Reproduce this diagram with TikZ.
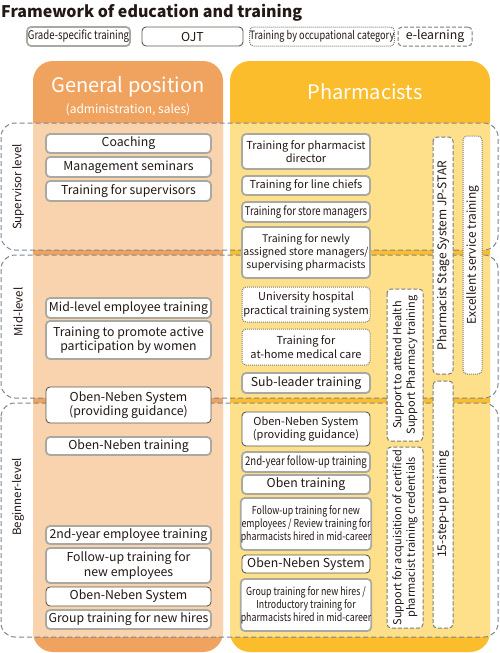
\documentclass[tikz,border=0pt]{standalone}
\usepackage{fontspec}
\setmainfont{Noto Sans CJK JP}
\newfontfamily\narrowfont[FakeStretch=0.8]{Noto Sans CJK JP}
\usetikzlibrary{positioning}

\definecolor{orangehead}{HTML}{F0A35E}
\definecolor{orangebody}{HTML}{F9D3AE}
\definecolor{yellowhead}{HTML}{FBBD2B}
\definecolor{yellowbody}{HTML}{FEDF8A}
\definecolor{gradeline}{HTML}{A9A9A1}
\definecolor{ojtline}{HTML}{5A5A50}
\definecolor{dashline}{HTML}{7D7D75}
\definecolor{levelline}{HTML}{7C8795}
\definecolor{ink}{HTML}{231815}

\begin{document}
\begin{tikzpicture}[x=1pt, y=-1pt,
  every node/.style={text=ink, inner sep=0pt},
  item/.style={rectangle, rounded corners=4pt, fill=white, align=center,
    font=\fontsize{12.3}{14.5}\selectfont},
  grade/.style={item, draw=gradeline, line width=1.8pt},
  ojt/.style={item, draw=ojtline, line width=0.9pt},
  occupation/.style={item, draw=dashline, densely dotted, line width=1pt},
  elearning/.style={item, draw=dashline, dash pattern=on 4pt off 2pt, line width=1pt},
  small/.style={font=\fontsize{11}{13.5}\selectfont},
  narrow/.style={font=\narrowfont\fontsize{12}{13.5}\selectfont},
  leftitem/.style={minimum width=165pt},
  rightitem/.style={minimum width=128pt},
  vbar/.style={rotate=90, font=\fontsize{12}{14}\selectfont},
  level/.style={draw=levelline, dash pattern=on 5pt off 3pt, line width=1pt, rounded corners=14pt},
  levellabel/.style={rotate=90, font=\fontsize{11.5}{14}\selectfont},
  head/.style={text=white, font=\fontsize{20}{24}\selectfont}
]
\useasboundingbox (0,0) rectangle (500,653);

\node[anchor=base west, font=\bfseries\fontsize{16}{20}\selectfont] (title) at (1,17) {Framework of education and training};

\node[grade, narrow, minimum width=103pt, minimum height=19pt] (keygrade) at (78.5,36.5) {Grade-specific training};
\node[ojt, minimum width=101pt, minimum height=19pt] (keyojt) at (192.5,36.5) {OJT};
\node[occupation, font=\narrowfont\fontsize{11.5}{13}\selectfont, minimum width=132pt, minimum height=19pt] (keyocc) at (322,36.5) {Training by occupational category};
\node[elearning, minimum width=74pt, minimum height=19pt] (keyel) at (435,36.5) {e-learning};

\fill[orangehead, rounded corners=20pt] (33,61) rectangle (223,652);
\fill[yellowhead, rounded corners=20pt] (230,61) rectangle (490,652);
\foreach \top/\bottom in {123/250, 255/398, 403/637} {
  \fill[orangebody] (33,\top) rectangle (223,\bottom);
  \fill[yellowbody] (230,\top) rectangle (490,\bottom);
}

\node[head] (general) at (128,87) {General position};
\node[text=white, font=\fontsize{12}{14}\selectfont, below=6pt of general] (generalsub) {(administration, sales)};
\node[head] (pharma) at (365,92) {Pharmacists};

\draw[level] (1,123) rectangle (498,250);
\draw[level] (1,255) rectangle (498,398);
\draw[level] (1,403) rectangle (498,637);
\node[levellabel] (supervisor) at (18,187) {Supervisor level};
\node[levellabel] (midlevel) at (18,312) {Mid-level};
\node[levellabel] (beginner) at (18,497) {Beginner-level};

\node[grade, leftitem, minimum height=19pt] (coaching) at (128.5,143.5) {Coaching};
\node[grade, leftitem, minimum height=20pt] (seminars) at (128.5,167) {Management seminars};
\node[grade, leftitem, minimum height=20pt] (supervisors) at (128.5,191) {Training for supervisors};
\node[grade, leftitem, minimum height=20pt] (midtraining) at (128.5,308) {Mid-level employee training};
\node[grade, leftitem, minimum height=38pt] (women) at (128.5,340) {Training to promote active\\participation by women};
\node[ojt, leftitem, minimum height=36pt] (guidanceleft) at (128.5,405) {Oben-Neben System\\(providing guidance)};
\node[grade, leftitem, minimum height=18pt] (obennebentraining) at (128.5,446) {Oben-Neben training};
\node[grade, leftitem, minimum height=18pt] (secondyear) at (128.5,535) {2nd-year employee training};
\node[grade, leftitem, minimum height=35pt] (followup) at (128.5,565.5) {Follow-up training for\\new employees};
\node[ojt, leftitem, minimum height=19pt] (systemleft) at (128.5,596.5) {Oben-Neben System};
\node[grade, leftitem, minimum height=19pt] (newhires) at (128.5,619.5) {Group training for new hires};

\node[grade, rightitem, small, minimum height=35pt] (director) at (306,151.5) {Training for pharmacist\\director};
\node[grade, rightitem, small, minimum height=19pt] (linechiefs) at (306,185.5) {Training for line chiefs};
\node[grade, rightitem, narrow, minimum height=20pt] (storemanagers) at (306,212) {Training for store managers};
\node[grade, rightitem, font=\fontsize{10.5}{13}\selectfont, minimum height=51pt] (newmanagers) at (306,252.5) {Training for newly\\assigned store managers/\\supervising pharmacists};
\node[occupation, rightitem, small, minimum height=35pt] (hospital) at (306,304.5) {University hospital\\practical training system};
\node[occupation, rightitem, small, minimum height=36pt] (athome) at (306,347) {Training for\\at-home medical care};
\node[grade, rightitem, minimum height=20pt] (subleader) at (306,383) {Sub-leader training};
\node[ojt, rightitem, small, minimum height=34pt] (guidanceright) at (306,429) {Oben-Neben System\\(providing guidance)};
\node[grade, rightitem, narrow, minimum height=20pt] (followupsecond) at (306,462) {2nd-year follow-up training};
\node[grade, rightitem, minimum height=19pt] (obentraining) at (306,484.5) {Oben training};
\node[grade, rightitem, font=\narrowfont\fontsize{11}{13}\selectfont, minimum height=52pt] (review) at (306,524) {Follow-up training for new\\employees / Review training for\\pharmacists hired in mid-career};
\node[ojt, rightitem, minimum height=18pt] (systemright) at (306,564) {Oben-Neben System};
\node[grade, rightitem, font=\narrowfont\fontsize{11}{13}\selectfont, minimum height=52pt] (introductory) at (306,605) {Group training for new hires /\\Introductory training for\\pharmacists hired in mid-career};

\node[elearning, vbar, font=\fontsize{11}{13.5}\selectfont, minimum width=152pt, minimum height=36pt] (healthsupport) at (405,365) {Support to attend Health\\Support Pharmacy training};
\node[elearning, vbar, font=\fontsize{11}{13.5}\selectfont, minimum width=181pt, minimum height=36pt] (credentials) at (405,537.5) {Support for acquisition of certified\\pharmacist training credentials};
\node[elearning, vbar, minimum width=237pt, minimum height=20pt] (jpstar) at (443,255.5) {Pharmacist Stage System JP-STAR};
\node[elearning, vbar, minimum width=247pt, minimum height=20pt] (stepup) at (443,504.5) {15-step-up training};
\node[occupation, vbar, minimum width=238pt, minimum height=19pt] (service) at (472.5,255) {Excellent service training};
\end{tikzpicture}
\end{document}
